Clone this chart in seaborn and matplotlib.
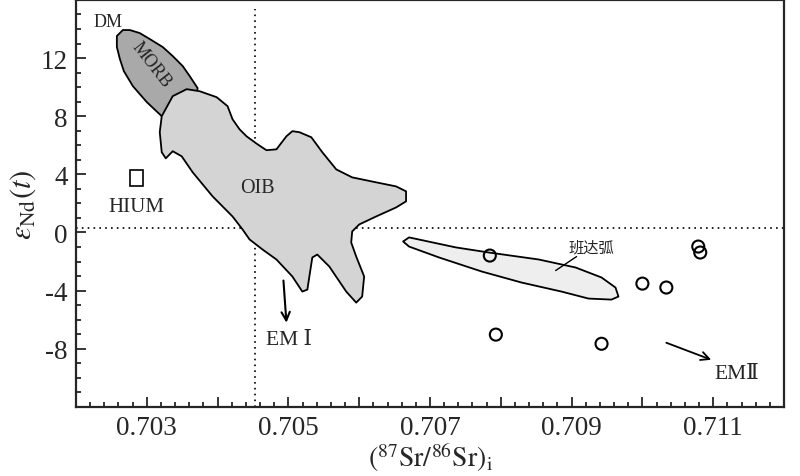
import numpy as np
import pandas as pd
import seaborn as sns
import matplotlib.pyplot as plt
from matplotlib.ticker import FixedLocator, MultipleLocator
from matplotlib.patches import Rectangle

# sample points (87Sr/86Sr)i vs eNd(t)
sample_sr = [0.707845, 0.70793, 0.709423, 0.71000, 0.710338, 0.710789, 0.710817]
sample_nd = [-1.59, -7.03, -7.66, -3.52, -3.79, -0.97, -1.38]

# field outlines
morb_sr = [0.702577, 0.702662, 0.702761, 0.702901, 0.703042, 0.703225, 0.703366, 0.703507,
           0.703606, 0.703718, 0.703690, 0.703465, 0.703211, 0.703000, 0.702803, 0.702676,
           0.702620, 0.702577]
morb_nd = [13.52, 13.93, 13.93, 13.72, 13.31, 12.76, 12.14, 11.45,
           10.76, 9.93, 9.17, 8.48, 8.0, 8.97, 10.07, 11.1,
           11.93, 12.76]

oib_sr = [0.703211, 0.703366, 0.703563, 0.703746, 0.703986, 0.704141, 0.704211, 0.704310,
          0.704408, 0.704563, 0.704690, 0.704831, 0.704972, 0.705056, 0.705155, 0.705324,
          0.705479, 0.705676, 0.705901, 0.706239, 0.706521, 0.706662, 0.706662, 0.706521,
          0.706239, 0.706000, 0.705901, 0.705887, 0.705958, 0.706070, 0.706042, 0.705958,
          0.705817, 0.705577, 0.705408, 0.705338, 0.705296, 0.705268, 0.705197, 0.705056,
          0.704831, 0.704634, 0.704451, 0.704352, 0.704211, 0.703930, 0.703648, 0.703493,
          0.703366, 0.703268, 0.703211, 0.703183]
oib_nd = [8.0, 9.38, 9.86, 9.72, 9.31, 8.69, 7.79, 7.10,
          6.62, 6.07, 5.66, 5.72, 6.62, 6.97, 6.90, 6.55,
          5.52, 4.34, 3.79, 3.45, 3.17, 2.83, 2.14, 1.72,
          1.10, 0.55, 0.07, -0.69, -1.66, -3.03, -4.41, -4.83,
          -4.07, -2.34, -1.52, -1.72, -3.03, -3.93, -4.07, -3.03,
          -1.86, -1.17, -0.48, 0.21, 1.10, 2.48, 4.14, 5.24,
          5.59, 5.10, 5.52, 6.90]

banda_sr = [0.706620, 0.706704, 0.707366, 0.707831, 0.708535, 0.709056, 0.709423, 0.709620,
            0.709662, 0.709563, 0.709239, 0.708859, 0.708296, 0.707732, 0.707127, 0.706704]
banda_nd = [-0.62, -0.34, -1.03, -1.38, -1.86, -2.41, -3.10, -3.79,
            -4.41, -4.62, -4.55, -4.07, -3.45, -2.69, -1.72, -0.97]

hium_box = (0.702761, 3.17, 0.000183, 1.11)  # x, y, width, height

bse_sr = 0.704535
chur_nd = 0.3

xtick_vals = [0.702, 0.703, 0.704, 0.705, 0.706, 0.707, 0.708, 0.709, 0.710, 0.711, 0.712]
xtick_labels = ['', '0.703', '', '0.705', '', '0.707', '', '0.709', '', '0.711', '']
ytick_vals = [-8, -4, 0, 4, 8, 12]

sns.set_style('ticks')
plt.rcParams['font.family'] = ['Liberation Serif', 'DejaVu Serif', 'Noto Sans CJK SC']
plt.rcParams['mathtext.fontset'] = 'stix'
plt.rcParams['axes.unicode_minus'] = False

fig = plt.figure(figsize=(8, 4.77), dpi=100)
ax = fig.add_axes([0.095, 0.145, 0.885, 0.853])

ax.fill(oib_sr, oib_nd, facecolor='#d4d4d4', edgecolor='black', lw=1.3, joinstyle='round', zorder=2)
ax.fill(morb_sr, morb_nd, facecolor='#a9a9a9', edgecolor='black', lw=1.3, joinstyle='round', zorder=1)
ax.fill(banda_sr, banda_nd, facecolor='#eeeeee', edgecolor='black', lw=1.3, joinstyle='round', zorder=2)
ax.add_patch(Rectangle(hium_box[:2], hium_box[2], hium_box[3], facecolor='none',
                       edgecolor='black', lw=1.2))

ax.axhline(chur_nd, color='black', lw=1.2, ls=(0, (1, 2.5)), zorder=0)
ax.vlines(bse_sr, -12, 15.4, color='black', lw=1.2, ls=(0, (1, 2.5)), zorder=0)

df = pd.DataFrame({'sr': sample_sr, 'nd': sample_nd})
sns.scatterplot(data=df, x='sr', y='nd', ax=ax, s=75, marker='o',
                facecolor='none', edgecolor='black', linewidth=1.5, zorder=4)

ax.text(0.702451, 14.55, 'DM', fontsize=13, ha='center', va='center')
ax.text(0.703070, 11.59, 'MORB', fontsize=13, ha='center', va='center', rotation=-52)
ax.text(0.704563, 3.10, 'OIB', fontsize=14.5, ha='center', va='center')
ax.text(0.702859, 1.79, 'HIUM', fontsize=15, ha='center', va='center')
ax.text(0.705014, -7.38, 'EM Ⅰ', fontsize=15.5, ha='center', va='center')
ax.text(0.711338, -9.72, 'EMⅡ', fontsize=15.5, ha='center', va='center')
ax.text(0.709282, -1.03, '班达弧', fontsize=11, ha='center', va='center',
        family=['Noto Sans CJK SC', 'DejaVu Sans'])

ax.plot([0.708775, 0.709070], [-2.62, -1.66], color='black', lw=1)
ax.annotate('', xy=(0.704972, -6.21), xytext=(0.704930, -3.31),
            arrowprops=dict(arrowstyle='->,head_length=0.6,head_width=0.3', lw=1.5, color='black',
                            shrinkA=0, shrinkB=0))
ax.annotate('', xy=(0.710972, -8.76), xytext=(0.710338, -7.59),
            arrowprops=dict(arrowstyle='->,head_length=0.6,head_width=0.3', lw=1.3, color='black',
                            shrinkA=0, shrinkB=0))

ax.set_xlim(0.702, 0.712)
ax.set_ylim(-12, 16)
ax.xaxis.set_major_locator(FixedLocator(xtick_vals))
ax.set_xticklabels(xtick_labels)
ax.xaxis.set_minor_locator(MultipleLocator(0.0002))
ax.set_yticks(ytick_vals)
ax.yaxis.set_minor_locator(MultipleLocator(1))
ax.tick_params(which='both', direction='in', top=False, right=False, width=1.3, labelsize=19.5)
ax.tick_params(which='major', length=7, pad=6)
ax.tick_params(which='minor', length=3.5)
for sp in ax.spines.values():
    sp.set_linewidth(1.6)

ax.set_xlabel(r'$(^{87}\mathrm{Sr}/^{86}\mathrm{Sr})_{\mathrm{i}}$', fontsize=20, labelpad=0)
ax.set_ylabel(r'$\varepsilon_{\mathrm{Nd}}(t)$', fontsize=22, labelpad=2)

fig.savefig('out.png', dpi=100)
